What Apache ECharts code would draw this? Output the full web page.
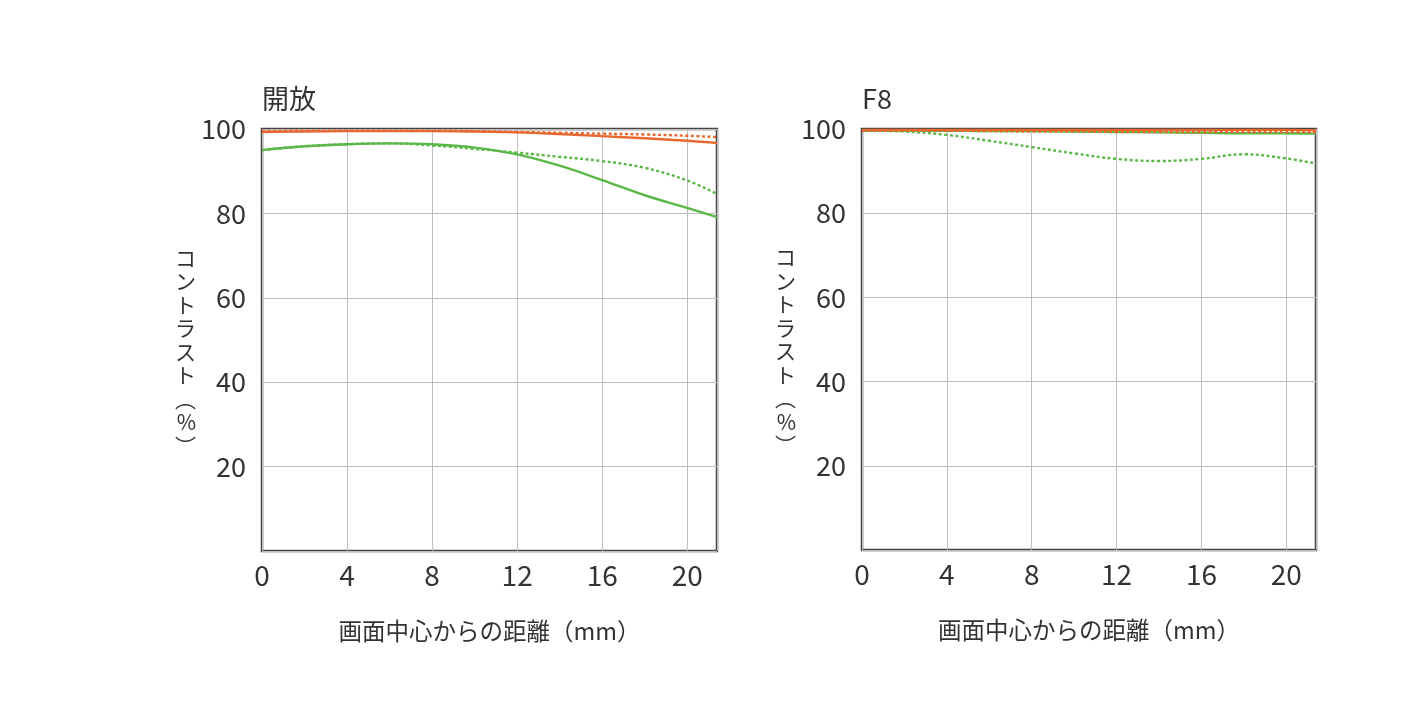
<!DOCTYPE html>
<html><head><meta charset="utf-8">
<script src="https://cdn.jsdelivr.net/npm/echarts@6/dist/echarts.min.js"></script>
<style>html,body{margin:0;padding:0;background:#fff}#c{width:1420px;height:704px}</style>
</head><body><div id="c"></div>
<script>
const titles = ["開放", "F8"];
const xTicks = [0, 4, 8, 12, 16, 20];
const yTicks = [20, 40, 60, 80, 100];
const xLabel = "画面中心からの距離（mm）";
const yLabel = "コントラスト（%）";
const xPos = [0, 2, 4, 6, 8, 10, 12, 14, 16, 18, 20, 21.4];

// 開放
const openOrangeSolid  = [99.3, 99.4, 99.5, 99.5, 99.5, 99.4, 99.2, 98.8, 98.3, 97.8, 97.2, 96.7];
const openOrangeDotted = [99.5, 99.6, 99.6, 99.6, 99.6, 99.5, 99.3, 99.1, 98.9, 98.7, 98.4, 98.1];
const openGreenSolid   = [95.0, 95.9, 96.4, 96.6, 96.4, 95.6, 94.0, 91.3, 87.9, 84.3, 81.3, 79.1];
const openGreenDotted  = [95.0, 95.9, 96.4, 96.6, 96.1, 95.3, 94.4, 93.4, 92.4, 90.8, 87.8, 84.6];
// F8
const f8OrangeSolid  = [99.8, 99.8, 99.8, 99.8, 99.8, 99.8, 99.8, 99.8, 99.8, 99.8, 99.8, 99.7];
const f8OrangeDotted = [99.6, 99.6, 99.6, 99.5, 99.4, 99.4, 99.3, 99.3, 99.3, 99.3, 99.3, 99.2];
const f8GreenSolid   = [99.6, 99.6, 99.6, 99.5, 99.5, 99.4, 99.3, 99.2, 99.1, 99.0, 99.0, 98.9];
const f8GreenDotted  = [99.7, 99.4, 98.6, 97.2, 95.7, 94.2, 92.9, 92.4, 92.9, 94.0, 93.0, 91.8];

const ORANGE = "#e8672e", GREEN = "#5ab848";
const FONT = "Noto Sans CJK JP";
const pair = (ys) => xPos.map((x, i) => [x, ys[i]]);

const grids = [
  {left: 262, top: 129, width: 455, height: 422},
  {left: 862, top: 129, width: 454, height: 421}
];
const xAxes = grids.map((g, i) => ({
  type: 'value', gridIndex: i, min: 0, max: 21.4, interval: 4,
  name: xLabel, nameLocation: 'middle', nameGap: 68,
  nameTextStyle: {fontFamily: FONT, fontSize: 23.5, color: '#333'},
  axisLine: {show: false}, axisTick: {show: false},
  axisLabel: {fontFamily: FONT, fontSize: 28, color: '#333', margin: 10, showMaxLabel: false,
    formatter: v => xTicks.includes(v) ? String(v) : ''},
  splitLine: {show: true, lineStyle: {color: '#bdbdbd', width: 1}}
}));
const yAxes = grids.map((g, i) => ({
  type: 'value', gridIndex: i, min: 0, max: 100, interval: 20,
  name: '\n' + yLabel.split('').map(c => c === '（' ? '︵' : c === '）' ? '︶' : c).join('\n'),
  nameLocation: 'middle', nameRotate: 0, nameGap: 66,
  nameTextStyle: {fontFamily: FONT, fontSize: 21, color: '#333', lineHeight: 23.5},
  axisLine: {show: false}, axisTick: {show: false},
  axisLabel: {fontFamily: FONT, fontSize: 27, color: '#333', margin: 16, showMinLabel: false,
    formatter: v => yTicks.includes(v) ? String(v) : ''},
  splitLine: {show: true, lineStyle: {color: '#bdbdbd', width: 1}}
}));
const mk = (data, color, dotted, idx) => ({
  type: 'line', xAxisIndex: idx, yAxisIndex: idx, data: pair(data), smooth: 0.4,
  showSymbol: false, lineStyle: {color, width: 2.4, type: dotted ? [3, 2.5] : 'solid'}
});
const option = {
  animation: false,
  grid: grids.map(g => Object.assign({show: true, borderColor: '#444', borderWidth: 2.5, backgroundColor: 'transparent'}, g)),
  xAxis: xAxes, yAxis: yAxes,
  title: titles.map((t, i) => ({text: t, left: grids[i].left - 5, top: 80,
    textStyle: {fontFamily: FONT, fontSize: 27, fontWeight: 'normal', color: '#333'}})),
  series: [
    mk(openGreenDotted, GREEN, true, 0), mk(openGreenSolid, GREEN, false, 0),
    mk(openOrangeDotted, ORANGE, true, 0), mk(openOrangeSolid, ORANGE, false, 0),
    mk(f8GreenDotted, GREEN, true, 1), mk(f8GreenSolid, GREEN, false, 1),
    mk(f8OrangeDotted, ORANGE, true, 1), mk(f8OrangeSolid, ORANGE, false, 1)
  ]
};
echarts.init(document.getElementById('c')).setOption(option);
</script></body></html>
